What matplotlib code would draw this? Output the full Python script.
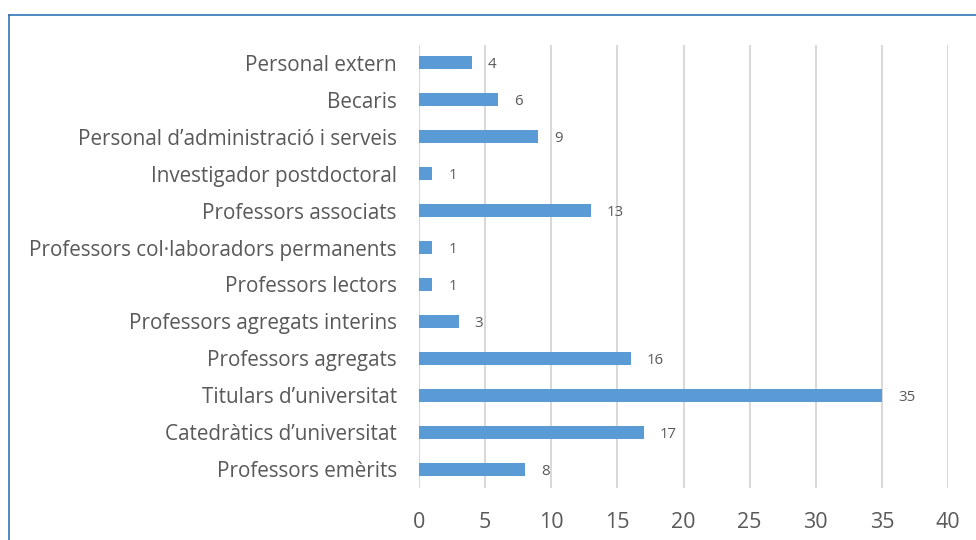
import matplotlib.pyplot as plt
from matplotlib.lines import Line2D

categories = [
    "Professors emèrits",
    "Catedràtics d’universitat",
    "Titulars d’universitat",
    "Professors agregats",
    "Professors agregats interins",
    "Professors lectors",
    "Professors col·laboradors permanents",
    "Professors associats",
    "Investigador postdoctoral",
    "Personal d’administració i serveis",
    "Becaris",
    "Personal extern",
]
values = [8, 17, 35, 16, 3, 1, 1, 13, 1, 9, 6, 4]
xticks = [0, 5, 10, 15, 20, 25, 30, 35, 40]

plt.rcParams['font.family'] = ['Open Sans', 'DejaVu Sans']
text_col = '#595959'

fig = plt.figure(figsize=(9.76, 5.4), dpi=100)
ax = fig.add_axes([419 / 976, 1 - 487.5 / 540, (948 - 419) / 976, (487.5 - 44.5) / 540])

y = range(len(categories))
ax.barh(y, values, height=0.35, color='#5B9BD5', zorder=3)
for yi, v in zip(y, values):
    ax.annotate(str(v), (v, yi), xytext=(11.5, 0), textcoords='offset points',
                va='center_baseline', ha='left', fontsize=10.8, color=text_col)

ax.set_xlim(0, 40)
ax.set_ylim(-0.5, len(categories) - 0.5)
ax.set_xticks(xticks)
ax.set_yticks(list(y))
ax.set_yticklabels(categories, fontsize=14.9)
ax.xaxis.grid(True, color='#D9D9D9', linewidth=1.5, zorder=0)
ax.tick_params(axis='both', length=0, colors=text_col)
ax.tick_params(axis='x', pad=18, labelsize=15.5)
ax.tick_params(axis='y', pad=16)
for s in ax.spines.values():
    s.set_visible(False)

# outer chart frame (only left and top edges visible in crop)
fr = '#2E75B6'
fig.add_artist(Line2D([8.5 / 976, 8.5 / 976], [0, 1 - 15 / 540], color=fr, lw=1.2, transform=fig.transFigure))
fig.add_artist(Line2D([8.5 / 976, 1], [1 - 15 / 540, 1 - 15 / 540], color=fr, lw=1.2, transform=fig.transFigure))

fig.savefig('out.png', dpi=100)
